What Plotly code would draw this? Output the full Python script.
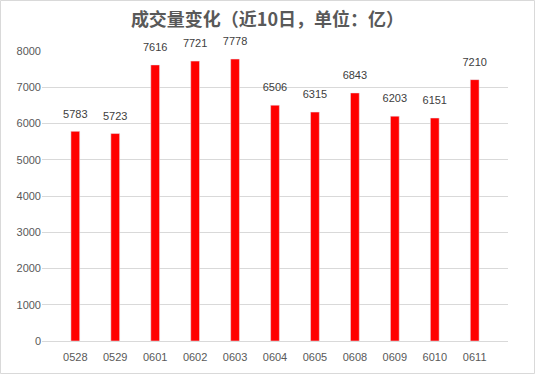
import plotly.graph_objects as go

categories = ["0528", "0529", "0601", "0602", "0603", "0604", "0605", "0608", "0609", "6010", "0611"]
volumes = [5783, 5723, 7616, 7721, 7778, 6506, 6315, 6843, 6203, 6151, 7210]
y_ticks = [0, 1000, 2000, 3000, 4000, 5000, 6000, 7000, 8000]
title_text = "成交量变化（近10日，单位：亿）"

W, H = 535, 374
ml, mr, mt, mb = 42, 27, 51, 33
pw, ph = W - ml - mr, H - mt - mb

fig = go.Figure()
fig.add_trace(go.Bar(
    x=categories, y=volumes, marker_color="#FF0000", width=0.22,
))
fig.add_trace(go.Scatter(
    x=categories, y=volumes, mode="markers+text", text=[str(v) for v in volumes],
    textposition="top center", cliponaxis=False,
    marker=dict(size=16, opacity=0),
    textfont=dict(family="Liberation Sans, Arial, sans-serif", size=11, color="#404040"),
    hoverinfo="skip",
))

fig.update_layout(
    width=W, height=H,
    margin=dict(l=ml, r=mr, t=mt, b=mb),
    paper_bgcolor="white", plot_bgcolor="white",
    title=dict(text="<b>" + title_text + "</b>", x=0.5, xanchor="center", y=1 - 20 / H, yanchor="middle",
               font=dict(family="Noto Sans CJK SC, sans-serif", size=18, color="#595959")),
    xaxis=dict(type="category", showgrid=False, showline=False, ticks="", ticklabelstandoff=8,
               tickfont=dict(family="Liberation Sans, Arial, sans-serif", size=11, color="#595959")),
    yaxis=dict(range=[0, 8000], tickvals=y_ticks, showgrid=True, gridcolor="#D9D9D9", gridwidth=1,
               zeroline=True, zerolinecolor="#D9D9D9", zerolinewidth=1, showline=False, ticks="",
               tickfont=dict(family="Liberation Sans, Arial, sans-serif", size=11, color="#595959")),
    showlegend=False,
    shapes=[dict(type="rect", xref="paper", yref="paper",
                 x0=(0.5 - ml) / pw, x1=(W - 0.5 - ml) / pw,
                 y0=(mt + ph - (H - 0.5)) / ph, y1=(mt + ph - 0.5) / ph,
                 line=dict(color="#D9D9D9", width=1), fillcolor="rgba(0,0,0,0)", layer="below")],
)

fig.write_html("out.html", config={"displayModeBar": False},
               post_script="document.body.style.margin='0';document.body.style.overflow='hidden';")
